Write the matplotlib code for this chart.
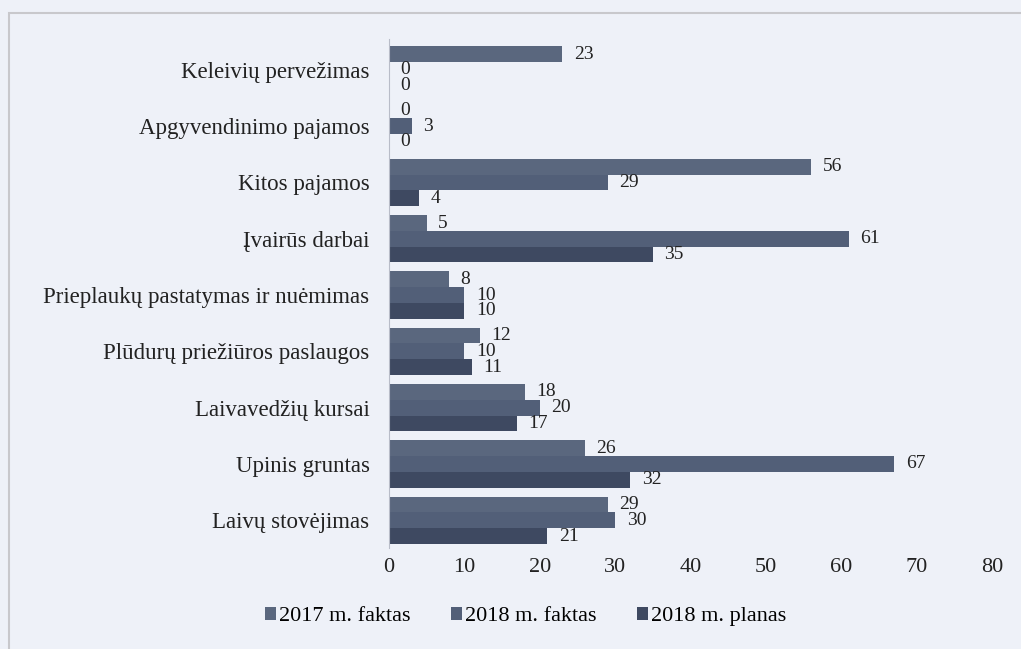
import matplotlib.pyplot as plt
import numpy as np

plt.rcParams['font.family'] = ['Liberation Serif', 'DejaVu Serif']

kategorijos = ['Keleivių pervežimas', 'Apgyvendinimo pajamos', 'Kitos pajamos',
               'Įvairūs darbai', 'Prieplaukų pastatymas ir nuėmimas',
               'Plūdurų priežiūros paslaugos', 'Laivavedžių kursai',
               'Upinis gruntas', 'Laivų stovėjimas']
faktas_2017 = [23, 0, 56, 5, 8, 12, 18, 26, 29]
faktas_2018 = [0, 3, 29, 61, 10, 10, 20, 67, 30]
planas_2018 = [0, 0, 4, 35, 10, 11, 17, 32, 21]
serijos = ['2017 m. faktas', '2018 m. faktas', '2018 m. planas']
spalvos = ['#5a677e', '#525f78', '#3e4961']
fonas = '#eef1f8'

fig = plt.figure(figsize=(10.21, 6.49), dpi=100, facecolor=fonas)
ax = fig.add_axes([0.381, 0.155, 0.591, 0.785], facecolor=fonas)

# ramelis aplink diagrama
fig.patches.append(plt.Rectangle((0.009, -0.01), 1.02, 0.99, transform=fig.transFigure,
                                 fill=False, edgecolor='#c8c8cc', linewidth=1.5))

y = np.arange(len(kategorijos))
h = 0.28
duomenys = [faktas_2017, faktas_2018, planas_2018]
for i, (vals, sp, pav) in enumerate(zip(duomenys, spalvos, serijos)):
    pos = y + (i - 1) * h
    ax.barh(pos, vals, height=h, color=sp, label=pav)
    for p, v in zip(pos, vals):
        ax.text(v + 1.5, p, str(v), va='center', ha='left', fontsize=14, color='#222222')

ax.set_ylim(len(kategorijos) - 0.5, -0.55)
ax.set_xlim(0, 80)
ax.set_xticks(range(0, 81, 10))
ax.set_yticks(y)
ax.set_yticklabels(kategorijos, fontsize=16.5, color='#222222')
ax.tick_params(axis='x', labelsize=16, colors='#222222', length=0, pad=7)
ax.tick_params(axis='y', length=0, pad=14)
for s in ['top', 'right', 'bottom']:
    ax.spines[s].set_visible(False)
ax.spines['left'].set_color('#b8bcc8')

fig.legend(loc='center', bbox_to_anchor=(0.515, 0.05), ncol=3, frameon=False,
           fontsize=16, handlelength=0.5, handleheight=0.5, handletextpad=0.15,
           columnspacing=1.8)

fig.savefig('out.png', dpi=100, facecolor=fonas)
